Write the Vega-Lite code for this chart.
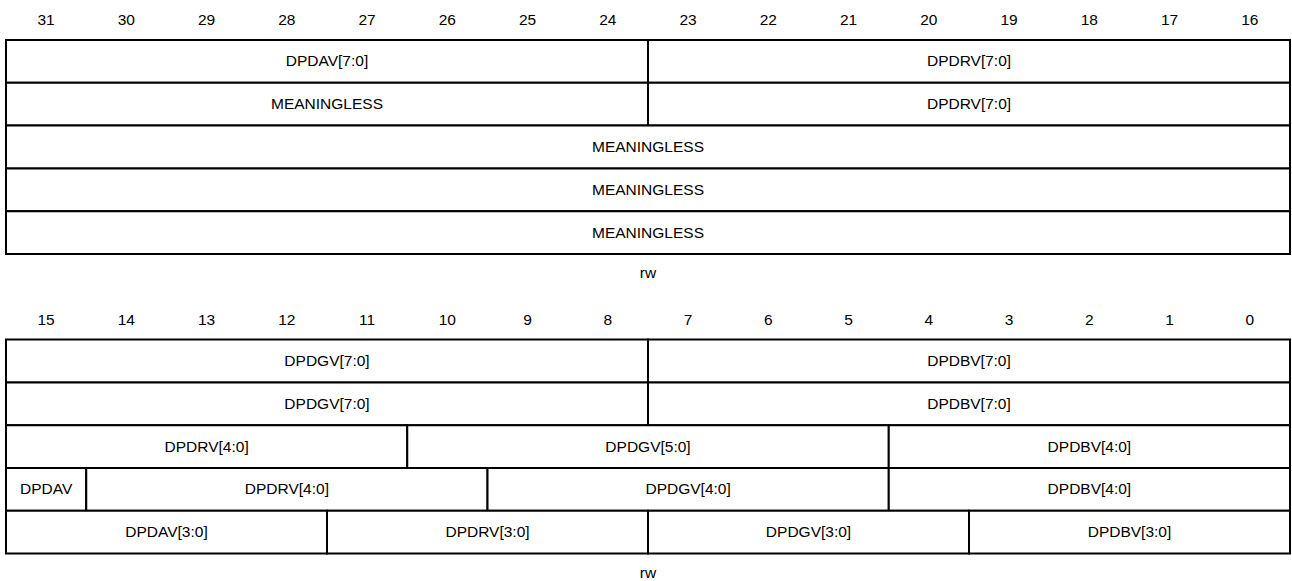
{
  "$schema": "https://vega.github.io/schema/vega-lite/v6.json",
  "width": 1292,
  "height": 581,
  "autosize": "none",
  "padding": 0,
  "background": "white",
  "config": {"view": {"stroke": null}},
  "datasets": {
    "cells": [
      {"row": 0, "rowEnd": 1, "start": 0, "end": 8, "label": "DPDAV[7:0]"},
      {"row": 0, "rowEnd": 1, "start": 8, "end": 16, "label": "DPDRV[7:0]"},
      {"row": 1, "rowEnd": 2, "start": 0, "end": 8, "label": "MEANINGLESS"},
      {"row": 1, "rowEnd": 2, "start": 8, "end": 16, "label": "DPDRV[7:0]"},
      {"row": 2, "rowEnd": 3, "start": 0, "end": 16, "label": "MEANINGLESS"},
      {"row": 3, "rowEnd": 4, "start": 0, "end": 16, "label": "MEANINGLESS"},
      {"row": 4, "rowEnd": 5, "start": 0, "end": 16, "label": "MEANINGLESS"},
      {"row": 7, "rowEnd": 8, "start": 0, "end": 8, "label": "DPDGV[7:0]"},
      {"row": 7, "rowEnd": 8, "start": 8, "end": 16, "label": "DPDBV[7:0]"},
      {"row": 8, "rowEnd": 9, "start": 0, "end": 8, "label": "DPDGV[7:0]"},
      {"row": 8, "rowEnd": 9, "start": 8, "end": 16, "label": "DPDBV[7:0]"},
      {"row": 9, "rowEnd": 10, "start": 0, "end": 5, "label": "DPDRV[4:0]"},
      {"row": 9, "rowEnd": 10, "start": 5, "end": 11, "label": "DPDGV[5:0]"},
      {"row": 9, "rowEnd": 10, "start": 11, "end": 16, "label": "DPDBV[4:0]"},
      {"row": 10, "rowEnd": 11, "start": 0, "end": 1, "label": "DPDAV"},
      {"row": 10, "rowEnd": 11, "start": 1, "end": 6, "label": "DPDRV[4:0]"},
      {"row": 10, "rowEnd": 11, "start": 6, "end": 11, "label": "DPDGV[4:0]"},
      {"row": 10, "rowEnd": 11, "start": 11, "end": 16, "label": "DPDBV[4:0]"},
      {"row": 11, "rowEnd": 12, "start": 0, "end": 4, "label": "DPDAV[3:0]"},
      {"row": 11, "rowEnd": 12, "start": 4, "end": 8, "label": "DPDRV[3:0]"},
      {"row": 11, "rowEnd": 12, "start": 8, "end": 12, "label": "DPDGV[3:0]"},
      {"row": 11, "rowEnd": 12, "start": 12, "end": 16, "label": "DPDBV[3:0]"}
    ],
    "bits": [
      {"bit": "31", "col": 0, "top": 0}, {"bit": "30", "col": 1, "top": 0}, {"bit": "29", "col": 2, "top": 0}, {"bit": "28", "col": 3, "top": 0},
      {"bit": "27", "col": 4, "top": 0}, {"bit": "26", "col": 5, "top": 0}, {"bit": "25", "col": 6, "top": 0}, {"bit": "24", "col": 7, "top": 0},
      {"bit": "23", "col": 8, "top": 0}, {"bit": "22", "col": 9, "top": 0}, {"bit": "21", "col": 10, "top": 0}, {"bit": "20", "col": 11, "top": 0},
      {"bit": "19", "col": 12, "top": 0}, {"bit": "18", "col": 13, "top": 0}, {"bit": "17", "col": 14, "top": 0}, {"bit": "16", "col": 15, "top": 0},
      {"bit": "15", "col": 0, "top": 7}, {"bit": "14", "col": 1, "top": 7}, {"bit": "13", "col": 2, "top": 7}, {"bit": "12", "col": 3, "top": 7},
      {"bit": "11", "col": 4, "top": 7}, {"bit": "10", "col": 5, "top": 7}, {"bit": "9", "col": 6, "top": 7}, {"bit": "8", "col": 7, "top": 7},
      {"bit": "7", "col": 8, "top": 7}, {"bit": "6", "col": 9, "top": 7}, {"bit": "5", "col": 10, "top": 7}, {"bit": "4", "col": 11, "top": 7},
      {"bit": "3", "col": 12, "top": 7}, {"bit": "2", "col": 13, "top": 7}, {"bit": "1", "col": 14, "top": 7}, {"bit": "0", "col": 15, "top": 7}
    ],
    "access": [
      {"label": "rw", "col": 8, "bottom": 5},
      {"label": "rw", "col": 8, "bottom": 12}
    ]
  },
  "layer": [
    {
      "data": {"name": "cells"},
      "mark": {"type": "rect", "fill": "white", "stroke": "#000000", "strokeWidth": 2},
      "encoding": {
        "x": {"field": "start", "type": "quantitative", "scale": {"domain": [-0.07477, 16.02492], "nice": false, "zero": false}, "axis": null},
        "x2": {"field": "end"},
        "y": {"field": "row", "type": "quantitative", "scale": {"domain": [-0.93458, 12.6402], "nice": false, "zero": false, "reverse": true}, "axis": null},
        "y2": {"field": "rowEnd"}
      }
    },
    {
      "data": {"name": "cells"},
      "transform": [{"fold": ["start", "end"], "as": ["edge", "pos"]}],
      "mark": {"type": "text", "font": "Liberation Sans", "fontSize": 15.5, "color": "#000000", "align": "center", "baseline": "middle", "dy": 21.4},
      "encoding": {
        "x": {"aggregate": "mean", "field": "pos", "type": "quantitative"},
        "y": {"field": "row", "type": "quantitative"},
        "detail": {"field": "label", "type": "nominal"},
        "text": {"field": "label", "type": "nominal"}
      }
    },
    {
      "data": {"name": "bits"},
      "mark": {"type": "text", "font": "Liberation Sans", "fontSize": 15.5, "color": "#000000", "align": "center", "baseline": "middle", "dx": 40.1, "dy": -20},
      "encoding": {
        "x": {"field": "col", "type": "quantitative"},
        "y": {"field": "top", "type": "quantitative"},
        "text": {"field": "bit", "type": "nominal"}
      }
    },
    {
      "data": {"name": "access"},
      "mark": {"type": "text", "font": "Liberation Sans", "fontSize": 15.5, "color": "#000000", "align": "center", "baseline": "bottom", "dy": 27.2},
      "encoding": {
        "x": {"field": "col", "type": "quantitative"},
        "y": {"field": "bottom", "type": "quantitative"},
        "text": {"field": "label", "type": "nominal"}
      }
    }
  ]
}
